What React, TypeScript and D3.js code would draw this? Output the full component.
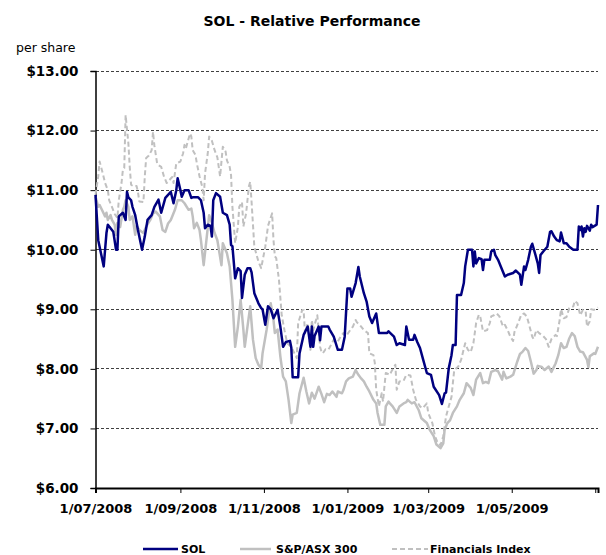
import { useEffect, useRef } from "react";
import * as d3 from "d3";

// days counted from 1 Jul 2008
const solDays = [0, 2, 6, 8, 9, 12, 13, 15, 16, 17, 20, 22, 23, 24, 26, 27, 29, 31, 34, 36, 38, 41, 43, 46, 48, 51, 53, 55, 57, 59, 60, 62, 63, 65, 68, 70, 71, 75, 77, 79, 80, 82, 84, 85, 86, 88, 91, 93, 96, 98, 99, 100, 102, 104, 106, 107, 109, 111, 113, 114, 116, 119, 121, 122, 124, 126, 128, 130, 133, 135, 137, 139, 142, 143, 144, 148, 149, 152, 155, 157, 158, 159, 160, 163, 164, 165, 170, 171, 174, 177, 180, 182, 184, 186, 187, 190, 192, 193, 196, 198, 200, 202, 205, 207, 213, 214, 218, 220, 222, 226, 227, 229, 232, 233, 235, 237, 239, 242, 245, 247, 251, 253, 255, 256, 258, 260, 261, 263, 264, 267, 269, 270, 272, 275, 276, 277, 278, 280, 282, 283, 284, 288, 289, 291, 292, 294, 296, 299, 301, 305, 307, 310, 311, 313, 314, 316, 318, 319, 321, 323, 324, 325, 327, 330, 332, 333, 335, 337, 339, 340, 342, 344, 346, 349, 352, 353, 354, 355, 356, 357, 358, 359, 361, 362, 363, 366, 367];
const solValues = [10.92, 10.16, 9.72, 10.28, 10.42, 10.33, 10.3, 10.0, 10.0, 10.56, 10.62, 10.5, 10.97, 10.88, 10.83, 10.72, 10.58, 10.33, 10.0, 10.22, 10.5, 10.58, 10.72, 10.84, 10.62, 10.87, 10.92, 10.97, 10.78, 11.0, 11.2, 11.0, 10.89, 11.0, 11.0, 10.87, 10.88, 10.88, 10.83, 10.62, 10.36, 10.42, 10.4, 10.22, 10.83, 10.95, 10.89, 10.62, 10.58, 10.42, 10.08, 10.06, 9.52, 9.69, 9.64, 9.19, 9.58, 9.69, 9.69, 9.62, 9.27, 9.1, 9.02, 9.0, 8.74, 9.05, 9.0, 8.85, 8.99, 8.71, 8.37, 8.45, 8.47, 8.36, 7.86, 7.86, 8.26, 8.57, 8.71, 8.37, 8.71, 8.37, 8.55, 8.71, 8.48, 8.71, 8.71, 8.66, 8.54, 8.32, 8.32, 8.54, 9.35, 9.35, 9.21, 9.44, 9.71, 9.55, 9.27, 9.13, 8.88, 8.77, 8.93, 8.6, 8.6, 8.63, 8.54, 8.4, 8.43, 8.4, 8.71, 8.49, 8.49, 8.57, 8.45, 8.35, 8.18, 7.93, 7.9, 7.7, 7.56, 7.41, 7.59, 7.6, 8.01, 8.23, 8.4, 8.4, 9.24, 9.24, 9.44, 9.72, 10.0, 10.0, 9.72, 9.97, 9.77, 9.86, 9.84, 9.66, 9.83, 9.83, 9.97, 10.0, 9.91, 9.83, 9.72, 9.55, 9.58, 9.61, 9.65, 9.58, 9.41, 9.72, 9.66, 9.83, 10.05, 10.1, 9.94, 9.77, 9.61, 9.91, 9.97, 10.05, 10.3, 10.31, 10.22, 10.16, 10.14, 10.29, 10.11, 10.11, 10.05, 10.0, 10.0, 10.39, 10.33, 10.39, 10.22, 10.36, 10.3, 10.4, 10.32, 10.42, 10.38, 10.42, 10.75];

const asxDays = [0, 2, 3, 7, 8, 9, 11, 12, 14, 15, 16, 18, 20, 21, 22, 24, 25, 27, 29, 30, 32, 35, 37, 40, 42, 44, 47, 49, 51, 53, 55, 58, 60, 63, 65, 68, 70, 71, 72, 74, 76, 77, 79, 81, 83, 85, 87, 89, 92, 93, 96, 98, 100, 102, 104, 106, 108, 109, 111, 113, 115, 117, 119, 121, 122, 125, 127, 128, 130, 131, 133, 135, 137, 139, 141, 143, 144, 147, 149, 152, 154, 156, 158, 160, 163, 165, 167, 169, 171, 173, 176, 177, 180, 181, 183, 185, 188, 190, 192, 194, 196, 198, 200, 203, 205, 206, 208, 211, 212, 214, 215, 217, 220, 222, 225, 227, 228, 231, 233, 236, 238, 242, 244, 247, 249, 252, 254, 255, 257, 259, 261, 264, 266, 269, 271, 274, 276, 278, 281, 283, 285, 287, 289, 292, 294, 297, 298, 300, 303, 305, 308, 310, 312, 314, 316, 318, 320, 322, 323, 326, 328, 331, 333, 336, 338, 340, 342, 344, 346, 348, 350, 352, 354, 356, 359, 360, 361, 364, 365, 367];
const asxValues = [10.89, 10.72, 10.75, 10.56, 10.62, 10.5, 10.58, 10.5, 10.42, 10.25, 10.45, 10.38, 10.67, 10.72, 10.83, 10.72, 10.5, 10.56, 10.25, 10.4, 10.33, 10.28, 10.39, 10.5, 10.61, 10.64, 10.56, 10.33, 10.3, 10.44, 10.5, 10.67, 10.83, 10.83, 10.78, 10.67, 10.69, 10.56, 10.36, 10.45, 10.33, 10.16, 9.74, 10.16, 10.58, 10.45, 10.28, 10.16, 9.74, 10.11, 9.94, 9.72, 9.16, 8.37, 8.71, 9.16, 8.66, 8.37, 8.71, 9.05, 8.49, 8.18, 8.07, 8.01, 8.26, 8.66, 8.99, 9.1, 8.82, 8.6, 8.66, 8.21, 7.87, 7.79, 7.48, 7.09, 7.23, 7.26, 7.59, 7.85, 7.62, 7.42, 7.6, 7.5, 7.7, 7.58, 7.44, 7.58, 7.56, 7.62, 7.53, 7.62, 7.59, 7.64, 7.79, 7.84, 7.87, 7.98, 7.9, 7.84, 7.79, 7.7, 7.62, 7.48, 7.42, 7.26, 7.06, 7.06, 7.37, 7.45, 7.42, 7.37, 7.26, 7.37, 7.42, 7.44, 7.48, 7.42, 7.44, 7.31, 7.17, 7.09, 6.98, 6.87, 6.73, 6.67, 6.75, 6.98, 7.09, 7.14, 7.26, 7.37, 7.48, 7.59, 7.76, 7.68, 7.56, 7.82, 7.93, 7.76, 7.78, 7.76, 7.95, 7.98, 7.96, 7.82, 7.95, 7.84, 7.87, 7.9, 8.12, 8.25, 8.29, 8.35, 8.3, 8.12, 7.92, 7.98, 8.05, 8.03, 7.98, 8.04, 7.95, 8.09, 8.23, 8.43, 8.35, 8.37, 8.51, 8.6, 8.55, 8.37, 8.29, 8.28, 8.15, 8.03, 8.21, 8.26, 8.25, 8.37];

const finDays = [0, 2, 3, 5, 7, 9, 10, 12, 14, 16, 17, 19, 20, 21, 22, 24, 25, 26, 28, 30, 31, 32, 35, 36, 37, 39, 41, 42, 43, 45, 46, 48, 50, 52, 54, 56, 57, 59, 62, 64, 65, 66, 69, 70, 71, 73, 74, 76, 78, 79, 80, 82, 83, 85, 87, 89, 91, 93, 95, 96, 98, 99, 100, 102, 104, 105, 107, 108, 110, 112, 113, 114, 116, 119, 121, 124, 126, 129, 130, 131, 132, 134, 136, 138, 140, 143, 144, 147, 148, 151, 152, 153, 155, 157, 158, 159, 162, 163, 164, 165, 166, 168, 170, 171, 174, 176, 177, 179, 181, 183, 186, 188, 190, 191, 194, 196, 199, 200, 203, 204, 205, 207, 209, 210, 211, 212, 215, 216, 219, 220, 222, 225, 227, 230, 232, 234, 237, 239, 242, 243, 246, 248, 250, 252, 254, 256, 258, 260, 261, 262, 265, 267, 270, 272, 274, 276, 278, 280, 281, 283, 286, 288, 289, 291, 293, 295, 297, 298, 299, 301, 303, 305, 306, 309, 311, 313, 315, 316, 319, 320, 322, 324, 327, 329, 331, 333, 336, 337, 339, 340, 342, 344, 346, 349, 350, 352, 354, 356, 358, 359, 361, 362, 364, 367];
const finValues = [10.92, 11.23, 11.48, 11.31, 11.12, 11.0, 10.83, 10.72, 10.6, 10.53, 10.83, 11.12, 11.34, 11.37, 12.26, 11.79, 11.39, 11.09, 11.06, 11.07, 10.97, 10.81, 10.8, 11.23, 11.54, 11.58, 11.67, 11.98, 11.75, 11.45, 11.42, 11.39, 11.23, 11.12, 11.17, 11.22, 11.12, 11.45, 11.48, 11.62, 11.76, 11.7, 11.95, 11.9, 11.67, 11.59, 11.45, 11.23, 11.05, 10.83, 11.28, 11.62, 11.9, 11.83, 11.67, 11.55, 11.23, 11.73, 11.65, 11.5, 11.39, 11.25, 10.72, 10.11, 10.38, 10.72, 10.8, 10.39, 10.61, 11.06, 11.14, 10.8, 10.05, 9.8, 9.69, 10.05, 10.4, 10.61, 10.16, 9.89, 9.86, 9.49, 8.9, 8.65, 8.43, 8.37, 8.32, 8.18, 8.77, 8.99, 8.99, 8.6, 8.77, 8.32, 8.82, 8.65, 8.9, 8.65, 8.37, 8.29, 8.26, 8.33, 8.32, 8.36, 8.49, 8.49, 8.46, 8.54, 8.6, 8.55, 8.65, 8.71, 8.82, 8.78, 8.71, 8.65, 8.6, 8.26, 8.23, 8.1, 7.65, 7.37, 7.59, 7.45, 7.7, 7.93, 7.9, 7.95, 8.07, 7.65, 7.79, 7.8, 7.9, 7.89, 7.65, 7.48, 7.37, 7.34, 7.42, 7.26, 7.09, 6.87, 6.75, 6.72, 6.87, 7.2, 7.37, 7.53, 7.76, 7.98, 8.04, 8.15, 8.43, 8.32, 8.28, 8.43, 8.77, 8.91, 8.88, 8.63, 8.65, 8.77, 8.88, 8.9, 8.93, 8.88, 8.75, 8.71, 8.74, 8.65, 8.54, 8.47, 8.62, 8.79, 8.91, 8.93, 8.88, 8.8, 8.54, 8.5, 8.65, 8.6, 8.55, 8.5, 8.37, 8.5, 8.57, 8.55, 8.82, 9.0, 8.85, 8.87, 9.02, 9.05, 9.14, 9.1, 8.9, 8.99, 8.96, 8.71, 8.8, 9.0, 8.99, 9.03];

const yTicks = [6, 7, 8, 9, 10, 11, 12, 13];
const legendNames = ["SOL", "S&P/ASX 300", "Financials Index"];

const startDate = new Date(2008, 6, 1);
const endDate = new Date(2009, 6, 3);

export default function App() {
  const svgRef = useRef<SVGSVGElement>(null);

  useEffect(() => {
    const width = 606;
    const height = 555;
    const margin = { top: 71, right: 8, bottom: 67, left: 95.5 };
    const font = "'DejaVu Sans', Verdana, sans-serif";

    const svg = d3.select(svgRef.current);
    svg.selectAll("*").remove();
    svg.attr("width", width).attr("height", height).style("font-family", font);

    const x = d3.scaleTime().domain([startDate, endDate]).range([margin.left, width - margin.right]);
    const y = d3.scaleLinear().domain([6, 13]).range([height - margin.bottom, margin.top]);

    const toSeries = (days: number[], values: number[]) =>
      days.map((d, i) => ({ date: d3.timeDay.offset(startDate, d), value: values[i] }));
    const sol = toSeries(solDays, solValues);
    const asx = toSeries(asxDays, asxValues);
    const fin = toSeries(finDays, finValues);

    // title
    svg.append("text")
      .attr("x", 312)
      .attr("y", 26)
      .attr("text-anchor", "middle")
      .attr("font-size", "14px")
      .attr("font-weight", "bold")
      .text("SOL - Relative Performance");

    svg.append("text")
      .attr("x", 16)
      .attr("y", 52)
      .attr("font-size", "12.5px")
      .text("per share");

    // gridlines
    svg.append("g")
      .selectAll("line")
      .data(yTicks.filter(t => t > 6))
      .enter()
      .append("line")
      .attr("x1", margin.left)
      .attr("x2", width - margin.right)
      .attr("y1", d => y(d))
      .attr("y2", d => y(d))
      .attr("stroke", "#404040")
      .attr("stroke-width", 1)
      .attr("stroke-dasharray", "3 2")
      .attr("shape-rendering", "crispEdges");

    // y axis
    const yAxis = svg.append("g")
      .attr("transform", `translate(${margin.left},0)`)
      .call(d3.axisLeft(y).tickValues(yTicks).tickSize(5).tickPadding(12).tickFormat(d => "$" + (+d).toFixed(2)));
    yAxis.select(".domain").attr("stroke", "#000").attr("stroke-width", 1.5);
    yAxis.selectAll("text").attr("font-size", "13.5px").attr("font-weight", "bold").attr("fill", "#000").attr("font-family", font);

    // x axis
    const xTicks = d3.timeMonth.every(2)!.range(startDate, endDate);
    const last = xTicks[xTicks.length - 1];
    const xAxis = svg.append("g")
      .attr("transform", `translate(0,${height - margin.bottom})`)
      .call(d3.axisBottom(x).tickValues(xTicks).tickSizeOuter(0).tickSize(5).tickPadding(11)
        .tickFormat(d => (+d === +last ? "" : d3.timeFormat("%-d/%m/%Y")(d as Date))));
    xAxis.select(".domain").attr("stroke", "#000").attr("stroke-width", 2);
    xAxis.selectAll("text").attr("font-size", "13px").attr("font-weight", "bold").attr("fill", "#000").attr("font-family", font);

    const line = d3.line<{ date: Date; value: number }>()
      .x(d => x(d.date))
      .y(d => y(d.value));

    svg.append("path").datum(fin)
      .attr("fill", "none").attr("stroke", "#C0C0C0").attr("stroke-width", 2)
      .attr("stroke-dasharray", "5 3").attr("stroke-linejoin", "round").attr("d", line);
    svg.append("path").datum(asx)
      .attr("fill", "none").attr("stroke", "#C0C0C0").attr("stroke-width", 2.5)
      .attr("stroke-linejoin", "round").attr("d", line);
    svg.append("path").datum(sol)
      .attr("fill", "none").attr("stroke", "#000080").attr("stroke-width", 2.5)
      .attr("stroke-linejoin", "round").attr("d", line);

    // legend
    const legend = [
      { name: legendNames[0], x1: 143, x2: 178, tx: 181, color: "#000080", dash: null, w: 2.5 },
      { name: legendNames[1], x1: 240, x2: 271, tx: 276, color: "#C0C0C0", dash: null, w: 2.5 },
      { name: legendNames[2], x1: 392, x2: 428, tx: 430, color: "#C0C0C0", dash: "5 3", w: 2 }
    ];
    const lg = svg.append("g");
    legend.forEach(l => {
      lg.append("line")
        .attr("x1", l.x1).attr("x2", l.x2).attr("y1", 549).attr("y2", 549)
        .attr("stroke", l.color).attr("stroke-width", l.w)
        .attr("stroke-dasharray", l.dash);
      lg.append("text")
        .attr("x", l.tx).attr("y", 553)
        .attr("font-size", "11px").attr("font-weight", "bold")
        .text(l.name);
    });
  }, []);

  return (
    <div style={{ position: "absolute", left: 0, top: 0 }}>
      <svg ref={svgRef}></svg>
    </div>
  );
}
